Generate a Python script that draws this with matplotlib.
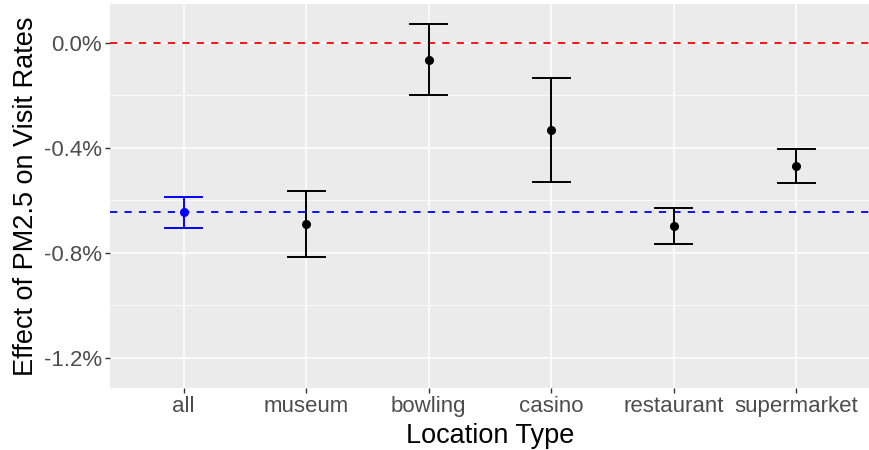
import numpy as np
import matplotlib
matplotlib.use('Agg')
import matplotlib.pyplot as plt
from matplotlib.ticker import FuncFormatter, MultipleLocator

plt.rcParams['font.family'] = ['Liberation Sans', 'DejaVu Sans']

# data (percent)
categories = ['all', 'museum', 'bowling', 'casino', 'restaurant', 'supermarket']
estimate = [-0.645, -0.689, -0.066, -0.331, -0.697, -0.470]
ci_low = [-0.704, -0.816, -0.199, -0.530, -0.767, -0.534]
ci_high = [-0.589, -0.563, 0.070, -0.136, -0.629, -0.406]
point_colors = ['blue', 'black', 'black', 'black', 'black', 'black']
yticks = [0.0, -0.4, -0.8, -1.2]
ref_zero = 0.0
ref_all = -0.645

fig = plt.figure(figsize=(8.7, 4.5), dpi=100)
ax = fig.add_axes([110 / 870, 62 / 450, 760 / 870, 384 / 450])
ax.set_facecolor('#EBEBEB')

x = np.arange(1, len(categories) + 1)

# grid
ax.yaxis.set_major_locator(MultipleLocator(0.4))
ax.yaxis.set_minor_locator(MultipleLocator(0.2))
ax.grid(which='major', color='white', lw=1.1)
ax.grid(which='minor', axis='y', color='white', lw=0.55)
ax.set_axisbelow(True)

ax.axhline(ref_zero, color='red', ls=(0, (4, 4)), lw=1.3, zorder=2)
ax.axhline(ref_all, color='blue', ls=(0, (4, 4)), lw=1.3, zorder=2)

cap = 0.15
for xi, est, lo, hi, c in zip(x, estimate, ci_low, ci_high, point_colors):
    ax.plot([xi, xi], [lo, hi], color=c, lw=1.4, zorder=3)
    ax.plot([xi - cap, xi + cap], [lo, lo], color=c, lw=1.4, zorder=3)
    ax.plot([xi - cap, xi + cap], [hi, hi], color=c, lw=1.4, zorder=3)
    ax.plot(xi, est, 'o', color=c, ms=5.5, zorder=4)

ax.set_xlim(0.4, len(categories) + 0.6)
ax.set_ylim(-1.314, 0.147)
ax.set_xticks(x)
ax.set_xticklabels(categories)
ax.set_yticks(yticks)
ax.yaxis.set_major_formatter(FuncFormatter(lambda v, p: f'{v:.1f}%'))

for s in ax.spines.values():
    s.set_visible(False)
ax.tick_params(which='major', colors='#333333', length=3.5, width=1, labelsize=16,
               labelcolor='#4D4D4D', pad=2.5)
ax.tick_params(which='minor', length=0)

ax.set_xlabel('Location Type', fontsize=19.5, labelpad=4)
ax.set_ylabel('Effect of PM2.5 on Visit Rates', fontsize=19.5, labelpad=3)

fig.savefig('out.png', dpi=100)
